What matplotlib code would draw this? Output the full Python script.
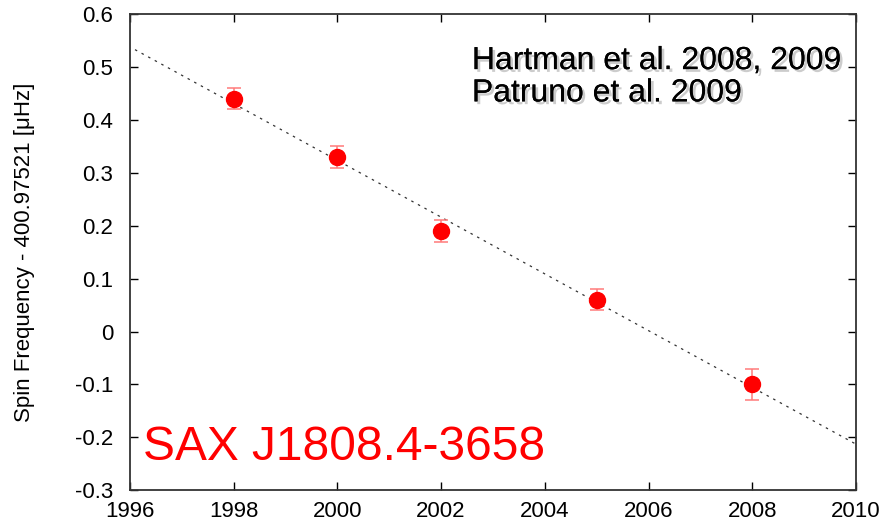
import matplotlib
matplotlib.use("Agg")
import matplotlib.pyplot as plt
import matplotlib.patheffects as pe

# Measured spin frequencies (offset from 400.97521 Hz)
years = [1998, 2000, 2002, 2005, 2008]
freq = [0.44, 0.33, 0.19, 0.06, -0.10]
freq_err = [0.02, 0.02, 0.02, 0.02, 0.03]

# Linear fit (endpoints)
fit_years = [1996.1, 2010]
fit_freq = [0.533, -0.213]

xticks = [1996, 1998, 2000, 2002, 2004, 2006, 2008, 2010]
yticks = [-0.3, -0.2, -0.1, 0, 0.1, 0.2, 0.3, 0.4, 0.5, 0.6]

plt.rcParams["font.family"] = ["Liberation Sans", "DejaVu Sans"]

fig = plt.figure(figsize=(8.89, 5.26), dpi=100)
ax = fig.add_axes([0.146, 0.068, 0.817, 0.905])

ax.plot(fit_years, fit_freq, color="#333333", linestyle=(0, (2, 4)), linewidth=0.9)
ax.errorbar(years, freq, yerr=freq_err, fmt="none", ecolor="#ff7a7a",
            elinewidth=1.1, capsize=5, capthick=1.1)
ax.plot(years, freq, "o", color="red", markersize=11.5, zorder=3)

ax.set_xlim(1996, 2010)
ax.set_ylim(-0.3, 0.6)
ax.set_xticks(xticks)
ax.set_yticks(yticks)
ax.set_yticklabels([f"{v:g}" for v in yticks])
ax.tick_params(direction="in", length=6, width=1, labelsize=16,
               top=True, right=True)
ax.tick_params(axis="y", pad=12)
ax.tick_params(axis="x", pad=8)
for s in ax.spines.values():
    s.set_linewidth(1.3)
    s.set_color("#333333")

ax.set_ylabel("Spin Frequency - 400.97521 [\u03bcHz]", fontsize=16)
ax.yaxis.set_label_coords(-0.131, 0.5)

shadow = [pe.withSimplePatchShadow(offset=(2, -2), shadow_rgbFace="gray", alpha=0.4), pe.Normal()]
ax.text(0.471, 0.933, "Hartman et al. 2008, 2009\nPatruno et al. 2009",
        transform=ax.transAxes, fontsize=23, va="top", ha="left",
        linespacing=1.1, path_effects=shadow)
ax.text(0.018, 0.063, "SAX J1808.4-3658", transform=ax.transAxes,
        fontsize=34.5, color="red", va="baseline", ha="left")

plt.savefig("out.png", dpi=100)
